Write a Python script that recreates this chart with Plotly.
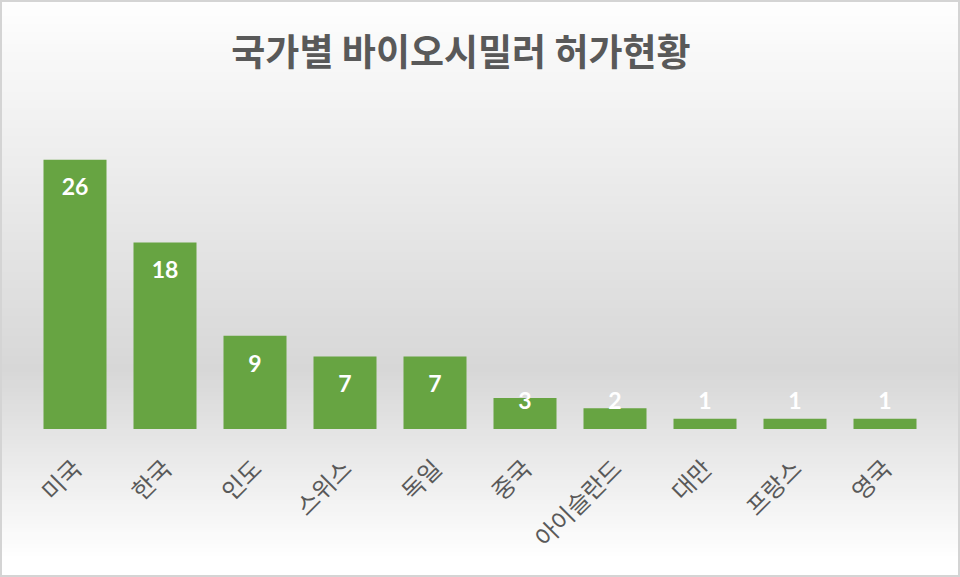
import plotly.graph_objects as go

# ---- data ----
countries = ["미국", "한국", "인도", "스위스", "독일", "중국", "아이슬란드", "대만", "프랑스", "영국"]
approvals = [26, 18, 9, 7, 7, 3, 2, 1, 1, 1]
title_text = "국가별 바이오시밀러 허가현황"

# ---- layout geometry ----
FIG_W, FIG_H = 960, 577
ML, MR, MT, MB = 30, 30, 139, 148
PW = FIG_W - ML - MR
PH = FIG_H - MT - MB
Y_MAX = 28
px_per_unit = PH / Y_MAX


def px_to_paper_x(px):
    return (px - ML) / PW


def px_to_paper_y(py):
    return (FIG_H - MB - py) / PH


def lerp(a, b, t):
    return a + (b - a) * t


def grad_color(py):
    # white at top -> gray around 370px -> white at bottom
    if py <= 370:
        t = py / 370
        v = lerp(254, 215, t)
    elif py <= 560:
        t = (py - 370) / 190
        v = lerp(215, 255, t)
    else:
        v = 255
    v = int(round(v))
    return f"rgb({v},{v},{v})"


shapes = []
step = 4
for py in range(0, FIG_H, step):
    shapes.append(dict(
        type="rect", xref="paper", yref="paper", layer="below",
        x0=px_to_paper_x(0), x1=px_to_paper_x(FIG_W),
        y0=px_to_paper_y(py + step + 0.5), y1=px_to_paper_y(py),
        fillcolor=grad_color(py + step / 2), line=dict(width=0),
    ))

# outer border
shapes.append(dict(
    type="rect", xref="paper", yref="paper", layer="above",
    x0=px_to_paper_x(1), x1=px_to_paper_x(FIG_W - 1),
    y0=px_to_paper_y(FIG_H - 1), y1=px_to_paper_y(1),
    fillcolor="rgba(0,0,0,0)", line=dict(color="#d4d4d4", width=2),
))

fig = go.Figure()
fig.add_trace(go.Bar(
    x=countries, y=approvals,
    marker=dict(color="#67a442", line=dict(width=0)),
    hoverinfo="x+y",
))

# value labels: ~30px below bar top, but no lower than a minimum height
label_offset = 30 / px_per_unit
label_min = 26 / px_per_unit
label_y = [max(v - label_offset, label_min) for v in approvals]
fig.add_trace(go.Scatter(
    x=countries, y=label_y, mode="text",
    text=[str(v) for v in approvals],
    textposition="middle center",
    textfont=dict(family="Lato, 'Open Sans', sans-serif", size=23, color="white", weight="bold"),
    hoverinfo="skip",
))

fig.update_layout(
    width=FIG_W, height=FIG_H,
    margin=dict(l=ML, r=MR, t=MT, b=MB),
    paper_bgcolor="white",
    plot_bgcolor="rgba(0,0,0,0)",
    showlegend=False,
    bargap=0.3,
    shapes=shapes,
    title=dict(
        text=title_text,
        x=461 / FIG_W, xanchor="center", xref="container",
        y=1 - 53 / FIG_H, yanchor="middle", yref="container",
        font=dict(family="Noto Sans CJK KR", size=37, color="#595959", weight="bold"),
    ),
    xaxis=dict(
        type="category", range=[-0.5, len(countries) - 0.5],
        showgrid=False, zeroline=False, showline=False, ticks="",
        tickangle=-45, ticklabelstandoff=20,
        tickfont=dict(family="Noto Sans CJK KR", size=24, color="#595959"),
    ),
    yaxis=dict(
        range=[0, Y_MAX], visible=False, showgrid=False, zeroline=False,
    ),
)

fig.write_html("out.html", config={"displayModeBar": False},
               post_script="document.body.style.margin='0';")
